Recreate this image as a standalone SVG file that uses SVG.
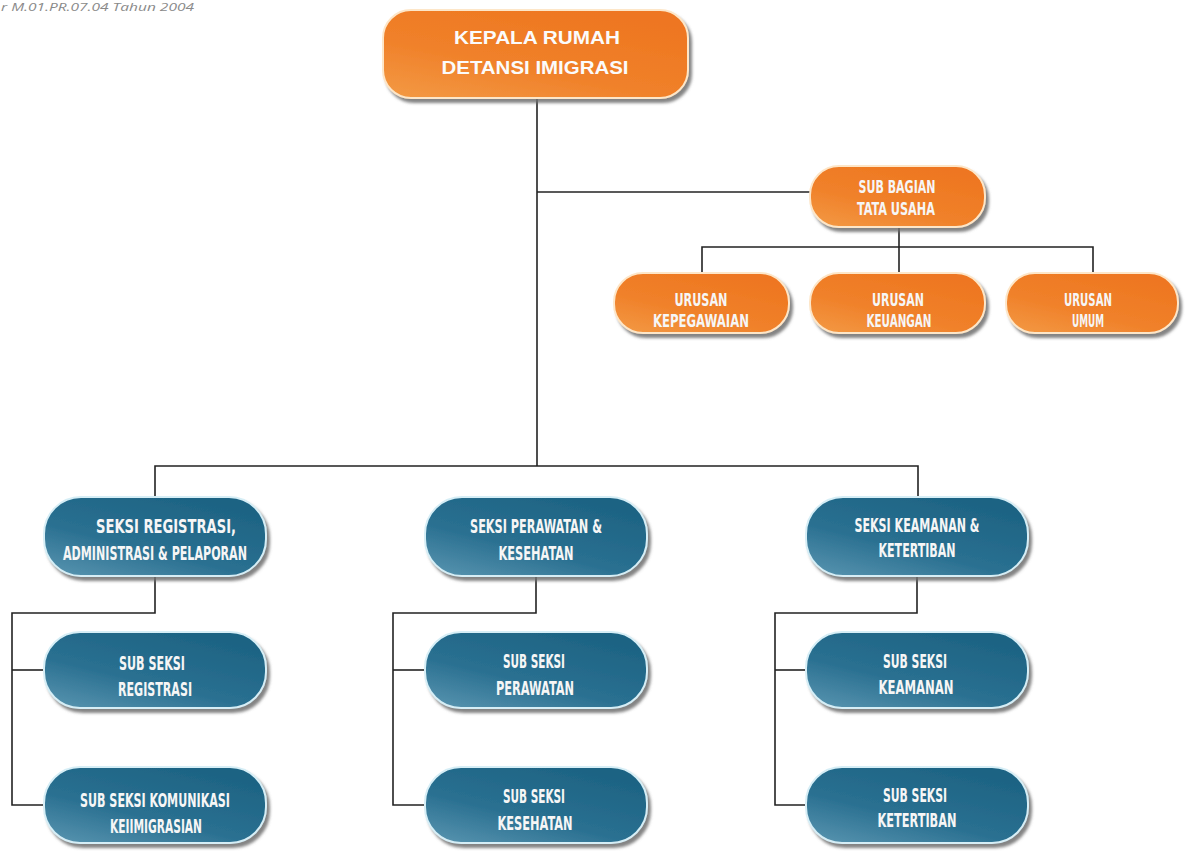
<svg xmlns="http://www.w3.org/2000/svg" width="1190" height="856" viewBox="0 0 1190 856">
<defs>
<style>
.bg{fill:#ffffff}
.conn{fill:none;stroke:#222;stroke-width:1.6}
.or{fill:url(#gOr);stroke:#fde6c8;stroke-width:2;filter:url(#sh)}
.bl{fill:url(#gBl);stroke:#d6eef6;stroke-width:2;filter:url(#sh)}
.t{font-family:"DejaVu Sans Condensed","DejaVu Sans",sans-serif;font-weight:bold;font-size:20px;fill:#f6f6f6;text-anchor:middle}
.ts{font-size:17px}
.tt{font-family:"Liberation Sans",Arial,sans-serif;font-weight:bold;font-size:19px;fill:#fbfbfb;text-anchor:middle}
.hdr{font-family:"Open Sans","DejaVu Sans",sans-serif;font-style:italic;font-size:10px;fill:#8a8a8a}
</style>
<filter id="sh" x="-10%" y="-20%" width="125%" height="150%">
<feDropShadow dx="3" dy="4" stdDeviation="1.6" flood-color="#6e6e6e" flood-opacity="0.85"/>
</filter>
<linearGradient id="gOr" x1="0" y1="1" x2="0.7" y2="0">
<stop offset="0" stop-color="#f39a45"/>
<stop offset="0.45" stop-color="#f0812a"/>
<stop offset="1" stop-color="#ee7620"/>
</linearGradient>
<linearGradient id="gBl" x1="0" y1="1" x2="0.7" y2="0">
<stop offset="0" stop-color="#5b96b1"/>
<stop offset="0.45" stop-color="#2a7091"/>
<stop offset="1" stop-color="#1d6383"/>
</linearGradient>
</defs>
<rect class="bg" x="0" y="0" width="1190" height="856"/>
<text class="hdr" x="1" y="11" textLength="193" lengthAdjust="spacingAndGlyphs">r M.01.PR.07.04 Tahun 2004</text>

<g id="connectors">
<path class="conn" d="M537 98 V466"/>
<path class="conn" d="M537 192 H810"/>
<path class="conn" d="M899 226 V273"/>
<path class="conn" d="M702 273 V247 H1093 V273"/>
<path class="conn" d="M155 497 V466 H918 V497"/>
<path class="conn" d="M155 575 V613 H12 V805 H44"/>
<path class="conn" d="M12 670 H44"/>
<path class="conn" d="M536 575 V613 H393 V805 H425"/>
<path class="conn" d="M393 670 H425"/>
<path class="conn" d="M917 577 V613 H775 V805 H806"/>
<path class="conn" d="M775 670 H806"/>
</g>

<g id="kepala">
<rect class="or" x="383" y="10" width="305" height="88" rx="28"/>
<text class="tt" x="537" y="44" textLength="166" lengthAdjust="spacingAndGlyphs">KEPALA RUMAH</text>
<text class="tt" x="535" y="74" textLength="187" lengthAdjust="spacingAndGlyphs">DETANSI IMIGRASI</text>
</g>

<g id="subbagian">
<rect class="or" x="810" y="166" width="175" height="61" rx="29"/>
<text class="t ts" x="897" y="193" textLength="77" lengthAdjust="spacingAndGlyphs">SUB BAGIAN</text>
<text class="t ts" x="896" y="215" textLength="78" lengthAdjust="spacingAndGlyphs">TATA USAHA</text>
</g>

<g id="urusan-kepegawaian">
<rect class="or" x="614" y="273" width="175" height="60" rx="29"/>
<text class="t ts" x="701" y="306" textLength="53" lengthAdjust="spacingAndGlyphs">URUSAN</text>
<text class="t ts" x="701" y="327" textLength="96" lengthAdjust="spacingAndGlyphs">KEPEGAWAIAN</text>
</g>

<g id="urusan-keuangan">
<rect class="or" x="810" y="273" width="175" height="60" rx="29"/>
<text class="t ts" x="898" y="306" textLength="52" lengthAdjust="spacingAndGlyphs">URUSAN</text>
<text class="t ts" x="899" y="327" textLength="65" lengthAdjust="spacingAndGlyphs">KEUANGAN</text>
</g>

<g id="urusan-umum">
<rect class="or" x="1006" y="273" width="172" height="60" rx="29"/>
<text class="t ts" x="1088" y="306" textLength="48" lengthAdjust="spacingAndGlyphs">URUSAN</text>
<text class="t ts" x="1088" y="327" textLength="32" lengthAdjust="spacingAndGlyphs">UMUM</text>
</g>

<g id="seksi-registrasi">
<rect class="bl" x="44" y="497" width="222" height="79" rx="37"/>
<text class="t" x="166" y="533" textLength="140" lengthAdjust="spacingAndGlyphs">SEKSI REGISTRASI,</text>
<text class="t" x="155" y="560" textLength="184" lengthAdjust="spacingAndGlyphs">ADMINISTRASI &amp; PELAPORAN</text>
</g>

<g id="seksi-perawatan">
<rect class="bl" x="425" y="497" width="222" height="79" rx="37"/>
<text class="t" x="536" y="533" textLength="132" lengthAdjust="spacingAndGlyphs">SEKSI PERAWATAN &amp;</text>
<text class="t" x="536" y="560" textLength="75" lengthAdjust="spacingAndGlyphs">KESEHATAN</text>
</g>

<g id="seksi-keamanan">
<rect class="bl" x="806" y="497" width="222" height="79" rx="37"/>
<text class="t" x="917" y="532" textLength="125" lengthAdjust="spacingAndGlyphs">SEKSI KEAMANAN &amp;</text>
<text class="t" x="917" y="557" textLength="77" lengthAdjust="spacingAndGlyphs">KETERTIBAN</text>
</g>

<g id="subseksi-registrasi">
<rect class="bl" x="44" y="632" width="222" height="76" rx="36"/>
<text class="t" x="152" y="670" textLength="66" lengthAdjust="spacingAndGlyphs">SUB SEKSI</text>
<text class="t" x="155" y="696" textLength="74" lengthAdjust="spacingAndGlyphs">REGISTRASI</text>
</g>

<g id="subseksi-komunikasi">
<rect class="bl" x="44" y="767" width="222" height="76" rx="36"/>
<text class="t" x="155" y="807" textLength="150" lengthAdjust="spacingAndGlyphs">SUB SEKSI KOMUNIKASI</text>
<text class="t" x="156" y="833" textLength="92" lengthAdjust="spacingAndGlyphs">KEIIMIGRASIAN</text>
</g>

<g id="subseksi-perawatan">
<rect class="bl" x="425" y="632" width="222" height="76" rx="36"/>
<text class="t" x="534" y="668" textLength="62" lengthAdjust="spacingAndGlyphs">SUB SEKSI</text>
<text class="t" x="535" y="695" textLength="78" lengthAdjust="spacingAndGlyphs">PERAWATAN</text>
</g>

<g id="subseksi-kesehatan">
<rect class="bl" x="425" y="767" width="222" height="76" rx="36"/>
<text class="t" x="534" y="803" textLength="62" lengthAdjust="spacingAndGlyphs">SUB SEKSI</text>
<text class="t" x="535" y="830" textLength="75" lengthAdjust="spacingAndGlyphs">KESEHATAN</text>
</g>

<g id="subseksi-keamanan">
<rect class="bl" x="806" y="632" width="222" height="76" rx="36"/>
<text class="t" x="915" y="668" textLength="64" lengthAdjust="spacingAndGlyphs">SUB SEKSI</text>
<text class="t" x="916" y="694" textLength="75" lengthAdjust="spacingAndGlyphs">KEAMANAN</text>
</g>

<g id="subseksi-ketertiban">
<rect class="bl" x="806" y="767" width="222" height="76" rx="36"/>
<text class="t" x="915" y="802" textLength="64" lengthAdjust="spacingAndGlyphs">SUB SEKSI</text>
<text class="t" x="917" y="827" textLength="79" lengthAdjust="spacingAndGlyphs">KETERTIBAN</text>
</g>
</svg>
